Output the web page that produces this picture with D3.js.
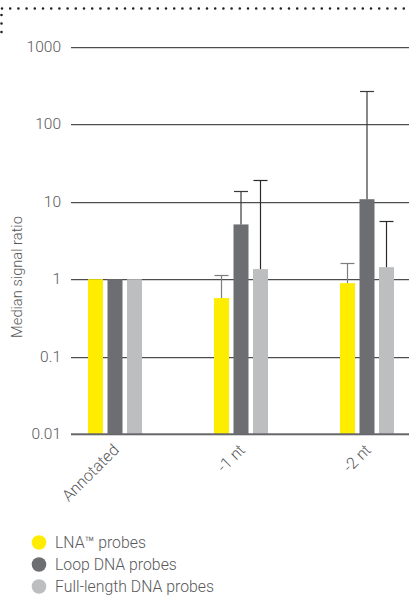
<!DOCTYPE html>
<html>
<head>
<meta charset="utf-8">
<script src="https://cdn.jsdelivr.net/npm/d3@7"></script>
<style>
  html, body { margin: 0; padding: 0; background: #fff; }
  svg { display: block; font-family: Roboto, "Noto Sans", sans-serif; }
</style>
</head>
<body>
<svg id="chart" width="409" height="596"></svg>
<script>
// Probe design categories and series
const categories = ["Annotated", "-1 nt", "-2 nt"];
const seriesNames = ["LNA™ probes", "Loop DNA probes", "Full-length DNA probes"];
const seriesColors = ["#ffed00", "#6d6e71", "#bcbec0"];
const errorColors = ["#7d7d7d", "#3a3a3a", "#2a2a2a"];

// Median signal ratio per series (one value per category)
const lnaValues = [1.0, 0.57, 0.89];
const loopValues = [1.0, 5.1, 10.8];
const fullValues = [1.0, 1.35, 1.43];

// Upper end of the error bar per series (null = none)
const lnaUpper = [null, 1.15, 1.6];
const loopUpper = [null, 13.8, 274];
const fullUpper = [null, 19.4, 5.7];

const yTicks = [0.01, 0.1, 1, 10, 100, 1000];

const values = [lnaValues, loopValues, fullValues];
const uppers = [lnaUpper, loopUpper, fullUpper];

const svg = d3.select("#chart");
const textColor = "#58595b";

// Dotted frame corner
svg.append("line")
  .attr("x1", 2).attr("x2", 404).attr("y1", 8.5).attr("y2", 8.5)
  .attr("stroke", "#222").attr("stroke-width", 2.6)
  .attr("stroke-linecap", "round").attr("stroke-dasharray", "0 8.2");
svg.append("line")
  .attr("x1", 1.5).attr("x2", 1.5).attr("y1", 15).attr("y2", 33)
  .attr("stroke", "#222").attr("stroke-width", 2.6)
  .attr("stroke-linecap", "round").attr("stroke-dasharray", "0 8.5");

const plotLeft = 71, plotRight = 409;

const y = d3.scaleLog().domain([0.01, 1000]).range([434, 47]);
const x = d3.scaleBand().domain(categories).range([52, 430]).padding(0);
const xs = d3.scaleBand().domain(d3.range(seriesNames.length))
  .range([-27, 27]).paddingInner(4.5 / 19.5).paddingOuter(0);

// Gridlines with a soft shadow line
const grid = svg.append("g");
yTicks.forEach(t => {
  grid.append("line")
    .attr("x1", plotLeft).attr("x2", plotRight)
    .attr("y1", Math.round(y(t)) + 1.5).attr("y2", Math.round(y(t)) + 1.5)
    .attr("stroke", "#d4d4d4").attr("stroke-width", 1);
});

const yAxis = d3.axisLeft(y)
  .tickValues(yTicks)
  .tickFormat(d => String(d))
  .tickSize(-(plotRight - plotLeft))
  .tickPadding(10);

const gy = svg.append("g")
  .attr("transform", `translate(${plotLeft},0)`)
  .call(yAxis);
gy.select(".domain").remove();
gy.selectAll(".tick line")
  .attr("stroke", "#4d4d4f").attr("stroke-width", 1)
  .attr("transform", "translate(0,0.5)");
gy.selectAll(".tick").attr("transform", d => `translate(0,${Math.round(y(d))})`);
gy.selectAll(".tick text")
  .attr("fill", textColor)
  .attr("font-size", 15.5)
  .attr("font-weight", 300)
  .attr("font-family", "Roboto, sans-serif");

// Y axis title
svg.append("text")
  .attr("transform", "translate(22,277) rotate(-90)")
  .attr("text-anchor", "middle")
  .attr("fill", textColor)
  .attr("font-size", 14.7)
  .attr("font-weight", 300)
  .text("Median signal ratio");

// Bars
const bars = svg.append("g");
values.forEach((vals, si) => {
  bars.selectAll(null)
    .data(vals.map((v, ci) => ({ v, c: categories[ci] })))
    .join("rect")
    .attr("x", d => x(d.c) + x.bandwidth() / 2 + xs(si))
    .attr("width", xs.bandwidth())
    .attr("y", d => y(d.v))
    .attr("height", d => y(0.01) - y(d.v))
    .attr("fill", seriesColors[si]);
});

// Error bars (upper whisker only)
const errs = svg.append("g");
uppers.forEach((ups, si) => {
  ups.forEach((u, ci) => {
    if (u == null) return;
    const cx = x(categories[ci]) + x.bandwidth() / 2 + xs(si) + xs.bandwidth() / 2;
    const y0 = y(values[si][ci]);
    const y1 = Math.round(y(u)) + 0.5;
    errs.append("line")
      .attr("x1", cx).attr("x2", cx).attr("y1", y0).attr("y2", y1)
      .attr("stroke", errorColors[si]).attr("stroke-width", 1.2);
    errs.append("line")
      .attr("x1", cx - 7).attr("x2", cx + 7).attr("y1", y1).attr("y2", y1)
      .attr("stroke", errorColors[si]).attr("stroke-width", 1.2);
  });
});

// Bottom baseline
svg.append("line")
  .attr("x1", plotLeft).attr("x2", plotRight)
  .attr("y1", y(0.01)).attr("y2", y(0.01))
  .attr("stroke", "#6d6e71").attr("stroke-width", 1.6);

// Category labels, rotated
svg.append("g").selectAll("text")
  .data(categories)
  .join("text")
  .attr("transform", d => `translate(${x(d) + x.bandwidth() / 2 + 5},451) rotate(-45)`)
  .attr("text-anchor", "end")
  .attr("fill", textColor)
  .attr("font-size", 16)
  .attr("font-weight", 300)
  .text(d => d);

// Legend
const legend = svg.append("g");
seriesNames.forEach((name, i) => {
  const ly = 542.5 + i * 22;
  legend.append("circle")
    .attr("cx", 39).attr("cy", ly).attr("r", 7.3)
    .attr("fill", seriesColors[i]);
  legend.append("text")
    .attr("x", 55).attr("y", ly + 5.3)
    .attr("fill", textColor)
    .attr("font-size", 15.8)
    .attr("font-weight", 300)
    .text(name);
});
</script>
</body>
</html>
